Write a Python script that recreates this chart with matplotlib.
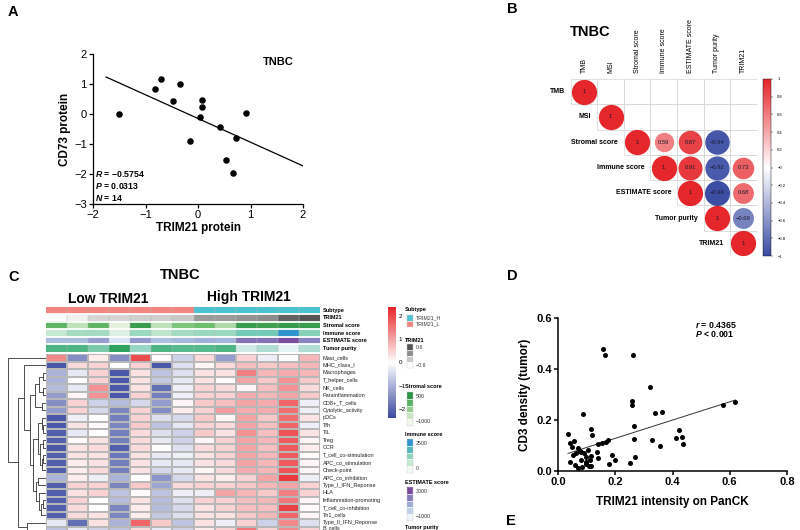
import numpy as np
import matplotlib
matplotlib.use('Agg')
import matplotlib.pyplot as plt
from matplotlib.colors import LinearSegmentedColormap, Normalize
from matplotlib.cm import ScalarMappable
from matplotlib.patches import Rectangle

plt.rcParams['font.family'] = ['Liberation Sans', 'DejaVu Sans']
plt.rcParams['mathtext.fontset'] = 'custom'
plt.rcParams['mathtext.it'] = 'Liberation Sans:italic:bold'
plt.rcParams['mathtext.rm'] = 'Liberation Sans:bold'

# ---------------- data ----------------
# A: TRIM21 vs CD73 protein
a_x = [-1.5, -0.82, -0.71, -0.47, -0.34, -0.16, 0.04, 0.08, 0.08, 0.41, 0.73, 0.53, 0.66, 0.91]
a_y = [0.0, 0.82, 1.17, 0.44, 0.99, -0.9, -0.1, 0.48, 0.24, -0.42, -0.8, -1.53, -1.97, 0.04]
a_fit = (-0.79, -0.15)
a_fit_range = (-1.75, 2.0)

# B: correlation matrix (upper triangle, None = not shown)
b_labels = ['TMB', 'MSI', 'Stromal score', 'Immune score', 'ESTIMATE score', 'Tumor purity', 'TRIM21']
b_corr = [
    [1, None, None, None, None, None, None],
    [None, 1, None, None, None, None, None],
    [None, None, 1, 0.59, 0.87, -0.94, None],
    [None, None, None, 1, 0.91, -0.92, 0.73],
    [None, None, None, None, 1, -0.99, 0.68],
    [None, None, None, None, None, 1, -0.69],
    [None, None, None, None, None, None, 1],
]

# C: heatmap
heat_rows = ['Mast_cells', 'MHC_class_I', 'Macrophages', 'T_helper_cells', 'NK_cells',
             'Parainflammation', 'CD8+_T_cells', 'Cytolytic_activity', 'pDCs', 'Tfh', 'TIL',
             'Treg', 'CCR', 'T_cell_co-stimulation', 'APC_co_stimulation', 'Check-point',
             'APC_co_inhibition', 'Type_I_IFN_Reponse', 'HLA', 'Inflammation-promoting',
             'T_cell_co-inhibition', 'Th1_cells', 'Type_II_IFN_Reponse', 'B_cells']
heat_values = [
    [1.3, -1.5, 0.2, -1.5, 2.0, 0.05, -0.6, 0.4, -1.3, 0.5, -0.2, 0.0, 0.8],
    [-2.2, 0.4, 0.5, 0.0, 0.5, -2.2, -0.4, 0.1, 0.4, 0.7, 0.6, 0.7, 0.8],
    [-1.0, -0.3, 0.5, -2.2, 0.3, -0.8, -0.4, 0.3, 0.3, 1.4, 0.8, 0.9, 0.8],
    [-1.0, 0.0, 0.5, -2.2, 0.3, -0.7, -0.3, 0.3, 0.05, 1.0, 0.6, 1.2, 0.6],
    [-0.9, -0.3, 1.2, -2.2, 0.3, -1.9, -0.2, 0.5, 0.4, 0.1, 0.7, 1.2, 0.4],
    [-1.3, 0.1, 1.2, -2.2, 0.5, -1.7, -0.2, 0.5, 0.5, 0.9, 0.8, 1.0, 0.6],
    [-1.5, 0.5, -0.6, -0.9, -0.5, -1.3, 0.1, 0.6, 0.7, 1.0, 0.9, 1.7, -0.2],
    [-1.3, 0.5, -0.5, -1.6, 0.5, -1.5, 0.2, 0.5, 1.1, 0.9, 0.9, 1.6, -0.2],
    [-2.2, -0.2, 0.0, -1.7, 0.5, -0.4, -0.5, 0.6, 0.1, 1.0, 0.6, 1.6, 0.3],
    [-2.2, 0.3, 0.05, -1.6, 0.6, -0.8, -0.3, 0.5, 0.4, 1.0, 0.7, 1.7, -0.2],
    [-2.1, -0.3, 0.0, -1.7, 0.4, -0.4, -0.6, 0.6, 0.3, 1.2, 0.7, 1.9, 0.3],
    [-2.1, 0.05, 0.3, -1.7, 0.4, -0.3, -0.6, 0.1, 0.5, 1.0, 0.8, 1.8, 0.1],
    [-2.2, 0.3, 0.4, -2.1, 0.4, 0.0, -0.4, 0.4, 0.5, 1.0, 0.7, 1.8, 0.2],
    [-2.1, 0.3, 0.3, -1.8, 0.3, -0.3, -0.2, 0.3, 0.5, 1.0, 0.8, 1.8, 0.05],
    [-2.1, 0.2, 0.3, -1.7, 0.3, -0.3, -0.3, 0.3, 0.4, 1.0, 0.8, 1.8, 0.1],
    [-2.1, 0.2, 0.4, -1.7, 0.3, -0.5, -0.3, 0.1, 0.4, 0.9, 0.8, 1.9, 0.1],
    [-1.0, 0.2, -0.2, -1.0, 0.0, -1.4, -0.5, 0.3, 0.2, 0.5, 1.0, 2.2, -0.2],
    [-2.1, 0.5, 0.5, -1.6, 0.6, -1.2, 0.4, 0.5, 0.5, 0.6, 0.8, 1.0, 0.5],
    [-2.1, 0.3, 0.5, -0.8, 0.05, -0.8, -0.2, -0.2, 1.0, 0.8, 0.6, 1.4, 0.5],
    [-2.1, 0.5, 0.0, -0.9, 0.3, -0.9, -0.4, 0.5, 0.5, 0.7, 0.8, 1.5, 0.1],
    [-2.1, 0.4, 0.0, -1.6, 0.2, -0.9, -0.5, 0.3, 0.5, 0.7, 0.7, 2.1, 0.05],
    [-2.1, 0.4, 0.3, -1.6, 0.2, -0.7, -0.4, 0.3, 0.3, 0.6, 0.8, 1.7, 0.1],
    [-0.3, -1.9, 0.3, -1.0, 1.7, 0.6, -0.8, 0.3, -0.2, 0.5, -0.6, 1.3, -0.4],
    [-0.8, -0.3, -0.6, -0.8, 0.4, -0.3, -0.6, 0.2, 0.5, 1.5, 0.5, 1.3, 0.5],
]
# row dendrogram merges: (left, right, height); ids >= 24 are earlier merges
dendro_merges = [
    (2, 3, 0.25), (4, 5, 0.25), (24, 25, 0.55), (6, 7, 0.3), (26, 27, 0.9),
    (9, 10, 0.2), (8, 29, 0.35), (11, 12, 0.25), (13, 14, 0.2), (32, 15, 0.35),
    (31, 33, 0.5), (30, 34, 0.65), (16, 17, 0.6), (19, 20, 0.25), (37, 21, 0.4),
    (18, 38, 0.55), (36, 39, 0.8), (35, 40, 1.0), (28, 41, 1.25), (1, 42, 1.7),
    (22, 23, 1.5), (43, 44, 2.2), (0, 45, 3.0),
]
ann_names = ['Subtype', 'TRIM21', 'Stromal score', 'Immune score', 'ESTIMATE score', 'Tumor purity']
subtype = ['TRIM21_L'] * 7 + ['TRIM21_H'] * 6
trim21_ann = [-0.6, -0.5, -0.3, -0.3, -0.25, -0.25, -0.2, 0.1, 0.1, 0.15, 0.2, 0.5, 0.6]
stromal_ann = [100, -500, 100, -850, 400, -500, -100, 0, -400, 400, 350, 420, 400]
immune_ann = [600, 1000, 1000, 300, 1100, 700, 1000, 1100, 1100, 1500, 1500, 2500, 1300]
estimate_ann = [600, 600, 1300, -500, 1400, 500, 700, 900, 800, 2200, 2200, 3000, 1900]
purity_ann = [0.7, 0.7, 0.5, 0.9, 0.4, 0.7, 0.65, 0.65, 0.7, 0.15, 0.3, 0.05, 0.3]

# D: TRIM21 intensity vs CD3 density
d_x = [0.035, 0.041, 0.055, 0.043, 0.053, 0.062, 0.070, 0.076, 0.082, 0.088, 0.090, 0.099,
       0.105, 0.111, 0.114, 0.118, 0.117, 0.061, 0.070, 0.085, 0.097, 0.107, 0.117, 0.137,
       0.141, 0.141, 0.155, 0.166, 0.175, 0.157, 0.164, 0.179, 0.189, 0.200, 0.251, 0.263,
       0.260, 0.260, 0.265, 0.266, 0.270, 0.323, 0.327, 0.339, 0.364, 0.356, 0.411, 0.422,
       0.433, 0.438, 0.576, 0.620, 0.050, 0.082, 0.099]
d_y = [0.145, 0.111, 0.117, 0.037, 0.063, 0.069, 0.089, 0.080, 0.076, 0.223, 0.069, 0.056,
       0.083, 0.043, 0.165, 0.140, 0.060, 0.024, 0.010, 0.014, 0.026, 0.021, 0.020, 0.073,
       0.050, 0.106, 0.109, 0.115, 0.122, 0.479, 0.456, 0.028, 0.063, 0.043, 0.030, 0.456,
       0.276, 0.257, 0.177, 0.124, 0.054, 0.331, 0.122, 0.229, 0.232, 0.098, 0.131, 0.159,
       0.132, 0.106, 0.259, 0.271, 0.096, 0.043, 0.037]
d_fit = (0.358, 0.0565)
d_fit_range = (0.035, 0.62)

# ---------------- figure ----------------
W, H = 800, 530
fig = plt.figure(figsize=(8, 5.3), dpi=100)


def box(x0, y0, x1, y1):
    return [x0 / W, 1 - y1 / H, (x1 - x0) / W, (y1 - y0) / H]


def ftext(x, y, s, **kw):
    fig.text(x / W, 1 - y / H, s, **kw)


for lab, (x, y) in zip('ABCD', [(8, 12), (507, 9), (8, 277), (507, 276)]):
    ftext(x, y, lab, fontsize=10.5, fontweight='bold', va='center')
ftext(506, 528, 'E', fontsize=10.5, fontweight='bold', va='bottom')

# ---- A ----
ax = fig.add_axes(box(93, 54, 303, 204))
ax.scatter(a_x, a_y, s=22, color='black', zorder=3, linewidths=0)
xs = np.array(a_fit_range)
ax.plot(xs, a_fit[0] * xs + a_fit[1], color='black', lw=0.9)
ax.set_xlim(-2, 2)
ax.set_ylim(-3, 2)
ax.set_xticks([-2, -1, 0, 1, 2])
ax.set_yticks([-3, -2, -1, 0, 1, 2])
for s in ['top', 'right']:
    ax.spines[s].set_visible(False)
for s in ['left', 'bottom']:
    ax.spines[s].set_linewidth(0.9)
ax.tick_params(labelsize=8, length=3, width=0.9, pad=1.5)
ax.set_xlabel('TRIM21 protein', fontsize=8.5, fontweight='bold', labelpad=1)
ax.set_ylabel('CD73 protein', fontsize=8.5, fontweight='bold', labelpad=2)
ax.text(1.52, 1.73, 'TNBC', fontsize=8, fontweight='bold', ha='center', va='center')
for i, t in enumerate(['$R$ = \u22120.5754', '$P$ = 0.0313', '$N$ = 14']):
    ax.text(-1.97, -2.0 - 0.4 * i, t, fontsize=6.3, fontweight='bold', va='center')

# ---- B ----
corr_cmap = LinearSegmentedColormap.from_list('corr', ['#3a4ca3', '#ffffff', '#e5262b'])
axb = fig.add_axes(box(570.7, 79, 756.7, 256))
axb.set_xlim(0, 7)
axb.set_ylim(7, 0)
axb.axis('off')
n = len(b_labels)
for i in range(n):
    for j in range(i, n):
        axb.add_patch(Rectangle((j, i), 1, 1, fill=False, ec='#d6d6d6', lw=0.5))
        r = b_corr[i][j]
        if r is None:
            continue
        axb.scatter(j + 0.5, i + 0.5, s=330 * abs(r), c=[r], cmap=corr_cmap, vmin=-1, vmax=1,
                    linewidths=0, zorder=3)
        txt = '1' if r == 1 else f'{r:.2f}'.replace('-', '\u2212')
        axb.text(j + 0.5, i + 0.5, txt, fontsize=4.2, ha='center', va='center', color='#1a1a2e',
                 zorder=4)
    axb.text(i - 0.22, i + 0.5, b_labels[i], fontsize=5, fontweight='bold', ha='right',
             va='center', clip_on=False)
    axb.text(i + 0.5, -0.25, b_labels[i], fontsize=5, rotation=90, ha='center', va='bottom',
             clip_on=False)
ftext(570, 32, 'TNBC', fontsize=10.5, fontweight='bold', va='center')
caxb = fig.add_axes(box(763, 79, 771, 256))
cb = fig.colorbar(ScalarMappable(Normalize(-1, 1), corr_cmap), cax=caxb,
                  ticks=np.round(np.arange(-1, 1.01, 0.2), 1))
cb.outline.set_linewidth(0.3)
cb.ax.tick_params(labelsize=3, length=1.5, width=0.3, pad=3)
cb.ax.set_yticklabels([f'{v:g}'.replace('-', '\u2212') for v in np.round(np.arange(-1, 1.01, 0.2), 1)])

# ---- C ----
heat_cmap = LinearSegmentedColormap.from_list('heat', ['#3a4aa2', '#ffffff', '#e8262a'])
heat_norm = Normalize(-2.4, 2.4)
ncol = len(heat_values[0])
nrow = len(heat_rows)

axh = fig.add_axes(box(46, 354, 320, 354 + 7.5 * nrow))
axh.pcolormesh(np.array(heat_values), cmap=heat_cmap, norm=heat_norm,
               edgecolors='#b8b8b8', linewidth=0.35)
axh.set_xlim(0, ncol)
axh.set_ylim(nrow, 0)
axh.axis('off')
for i, name in enumerate(heat_rows):
    # the last row is cut by the figure edge; nudge its label up so it stays readable
    yy = i + 0.5 if i < nrow - 1 else i + 0.15
    axh.text(ncol + 0.12, yy, name, fontsize=4, va='center', clip_on=False, color='#222')

# dendrogram
axd = fig.add_axes(box(6, 354, 46, 354 + 7.5 * nrow))
pos = {i: (i + 0.5, 0.0) for i in range(nrow)}
for k, (a, b, h) in enumerate(dendro_merges):
    ya, ha_ = pos[a]
    yb, hb = pos[b]
    axd.plot([ha_, h, h, hb], [ya, ya, yb, yb], color='#333333', lw=0.6)
    pos[nrow + k] = ((ya + yb) / 2, h)
axd.set_xlim(3.15, 0)
axd.set_ylim(nrow, 0)
axd.axis('off')

# annotation bars
sub_colors = {'TRIM21_H': '#4cc3d3', 'TRIM21_L': '#f2857f'}
ann_specs = [
    (trim21_ann, ['#ffffff', '#c9c9c9', '#8c8c8c', '#555555'], (-0.6, 0.6)),
    (stromal_ann, ['#f2f8ee', '#bfe3b8', '#6cbf6c', '#2a9447'], (-1000, 500)),
    (immune_ann, ['#f2faf5', '#b5e3c5', '#63c4b3', '#2f95cc'], (0, 2500)),
    (estimate_ann, ['#eef5fb', '#b3c9e6', '#8a8fc7', '#7b4b9e'], (-1000, 3000)),
    (purity_ann, ['#eef6fb', '#a9dcd3', '#52b98a', '#1f9a4c'], (0, 1)),
]
ann_cmaps = [LinearSegmentedColormap.from_list(f'a{k}', c) for k, (_, c, _) in enumerate(ann_specs)]
rgb = np.zeros((6, ncol, 4))
rgb[0] = [matplotlib.colors.to_rgba(sub_colors[s]) for s in subtype]
for k, (vals, cols, (lo, hi)) in enumerate(ann_specs):
    rgb[k + 1] = ann_cmaps[k](Normalize(lo, hi)(np.array(vals)))
axa = fig.add_axes(box(46, 306.5, 320, 352))
axa.imshow(rgb, aspect='auto', extent=(0, ncol, 6, 0), interpolation='nearest')
for c in range(1, ncol):
    axa.axvline(c, color='#b8b8b8', lw=0.35)
for r in range(1, 6):
    axa.axhline(r, color='white', lw=1.3)
axa.set_xlim(0, ncol)
axa.set_ylim(6, 0)
axa.axis('off')
for r, name in enumerate(ann_names):
    axa.text(ncol + 0.12, r + 0.5, name, fontsize=4, fontweight='bold', va='center', clip_on=False)

ftext(180, 275, 'TNBC', fontsize=10.5, fontweight='bold', ha='center', va='center')
ftext(108, 299, 'Low TRIM21', fontsize=10, fontweight='bold', ha='center', va='center')
ftext(249, 297, 'High TRIM21', fontsize=10, fontweight='bold', ha='center', va='center')

caxh = fig.add_axes(box(388, 307, 396, 418))
cbh = fig.colorbar(ScalarMappable(heat_norm, heat_cmap), cax=caxh, ticks=[-2, -1, 0, 1, 2])
cbh.outline.set_visible(False)
cbh.ax.tick_params(labelsize=4.5, length=0, pad=2)
cbh.ax.set_yticklabels(['\u22122', '\u22121', '0', '1', '2'])


def legend_strip(title, ty, y0, y1, colors, labels):
    ftext(405, ty, title, fontsize=4, fontweight='bold', va='center')
    lax = fig.add_axes(box(407, y0, 413, y1))
    lax.imshow(np.array([matplotlib.colors.to_rgba(c) for c in colors])[:, None, :],
               aspect='auto', interpolation='nearest', extent=(0, 1, len(colors), 0))
    for r in range(1, len(colors)):
        lax.axhline(r, color='white', lw=0.5)
    lax.set_xticks([])
    lax.set_yticks([])
    for s in lax.spines.values():
        s.set_linewidth(0.3)
        s.set_color('#cccccc')
    for frac, lab in labels:
        lax.text(1.4, frac * len(colors), lab, fontsize=3.8, va='center', clip_on=False,
                 color='#333')


legend_strip('Subtype', 309, 315, 327, [sub_colors['TRIM21_H'], sub_colors['TRIM21_L']],
             [(0.25, 'TRIM21_H'), (0.75, 'TRIM21_L')])
for k, (name, ty, y0, y1) in enumerate([('TRIM21', 340, 344, 368),
                                        ('Stromal score', 387, 392, 426),
                                        ('Immune score', 435, 439, 473),
                                        ('ESTIMATE score', 482, 487, 521)]):
    vals, cols, (lo, hi) = ann_specs[k]
    steps = ann_cmaps[k](np.linspace(1, 0, 4 if k == 0 else 5))
    legend_strip(name, ty, y0, y1, steps,
                 [(0.14, f'{hi:g}'), (0.88, f'{lo:g}'.replace('-', '\u2212'))])
ftext(405, 528, 'Tumor purity', fontsize=4, fontweight='bold', va='center')

# ---- D ----
ax2 = fig.add_axes(box(558, 318, 787, 471))
ax2.scatter(d_x, d_y, s=13, color='black', zorder=3, linewidths=0, clip_on=False)
xs = np.array(d_fit_range)
ax2.plot(xs, d_fit[0] * xs + d_fit[1], color='#333333', lw=0.7)
ax2.set_xlim(0, 0.8)
ax2.set_ylim(0, 0.6)
ax2.set_xticks([0, 0.2, 0.4, 0.6, 0.8])
ax2.set_yticks([0, 0.2, 0.4, 0.6])
ax2.set_xticklabels(['0.0', '0.2', '0.4', '0.6', '0.8'])
ax2.set_yticklabels(['0.0', '0.2', '0.4', '0.6'])
for s in ['top', 'right']:
    ax2.spines[s].set_visible(False)
for s in ['left', 'bottom']:
    ax2.spines[s].set_linewidth(1.1)
ax2.tick_params(labelsize=8, length=3, width=1.1, pad=1.5)
for t in ax2.get_xticklabels() + ax2.get_yticklabels():
    t.set_fontweight('bold')
ax2.set_xlabel('TRIM21 intensity on PanCK', fontsize=8.5, fontweight='bold', labelpad=6)
ax2.set_ylabel('CD3 density (tumor)', fontsize=8.5, fontweight='bold', labelpad=4)
ax2.text(0.48, 0.574, '$r$ = 0.4365', fontsize=6.3, fontweight='bold', va='center')
ax2.text(0.48, 0.538, '$P$ < 0.001', fontsize=6.3, fontweight='bold', va='center')

fig.savefig('out.png', dpi=100)
